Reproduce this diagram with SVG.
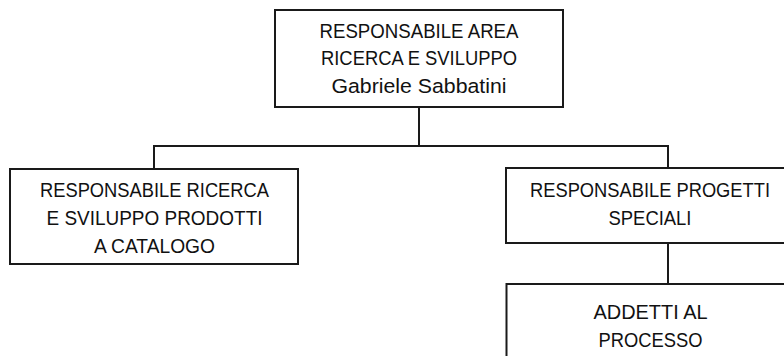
<svg xmlns="http://www.w3.org/2000/svg" width="784" height="356" viewBox="0 0 784 356">
<style>
rect{fill:#fff;stroke:#1a1a1a;stroke-width:2}
.c line{stroke:#1a1a1a;stroke-width:2}
text{font-family:"Liberation Sans",Arial,sans-serif;font-size:20.5px;fill:#111;text-anchor:middle}
</style>
<rect x="0" y="0" width="784" height="356" style="stroke:none"/>
<g class="c" id="connectors">
<line x1="419" y1="107" x2="419" y2="146"/>
<line x1="153" y1="146" x2="669" y2="146"/>
<line x1="154" y1="145" x2="154" y2="169"/>
<line x1="668" y1="145" x2="668" y2="168"/>
<line x1="668" y1="243" x2="668" y2="284"/>
</g>
<g id="n-top">
<rect x="275" y="10" width="288" height="97"/>
<text x="419" y="37.5" textLength="199" lengthAdjust="spacingAndGlyphs">RESPONSABILE AREA</text>
<text x="419" y="65" textLength="196" lengthAdjust="spacingAndGlyphs">RICERCA E SVILUPPO</text>
<text x="419" y="92.5" textLength="175" lengthAdjust="spacingAndGlyphs">Gabriele Sabbatini</text>
</g>
<g id="n-left">
<rect x="10" y="169" width="288" height="95"/>
<text x="154.5" y="196.5" textLength="229" lengthAdjust="spacingAndGlyphs">RESPONSABILE RICERCA</text>
<text x="154.5" y="224.5" textLength="216" lengthAdjust="spacingAndGlyphs">E SVILUPPO PRODOTTI</text>
<text x="154.5" y="252.5" textLength="121" lengthAdjust="spacingAndGlyphs">A CATALOGO</text>
</g>
<g id="n-right">
<rect x="506" y="168" width="290" height="75"/>
<text x="650" y="196.5" textLength="240" lengthAdjust="spacingAndGlyphs">RESPONSABILE PROGETTI</text>
<text x="650" y="224.5" textLength="83" lengthAdjust="spacingAndGlyphs">SPECIALI</text>
</g>
<g id="n-bottom">
<rect x="506.5" y="284" width="290" height="90"/>
<text x="650.5" y="318.5" textLength="114" lengthAdjust="spacingAndGlyphs">ADDETTI AL</text>
<text x="650.5" y="346.5" textLength="104" lengthAdjust="spacingAndGlyphs">PROCESSO</text>
</g>
</svg>
